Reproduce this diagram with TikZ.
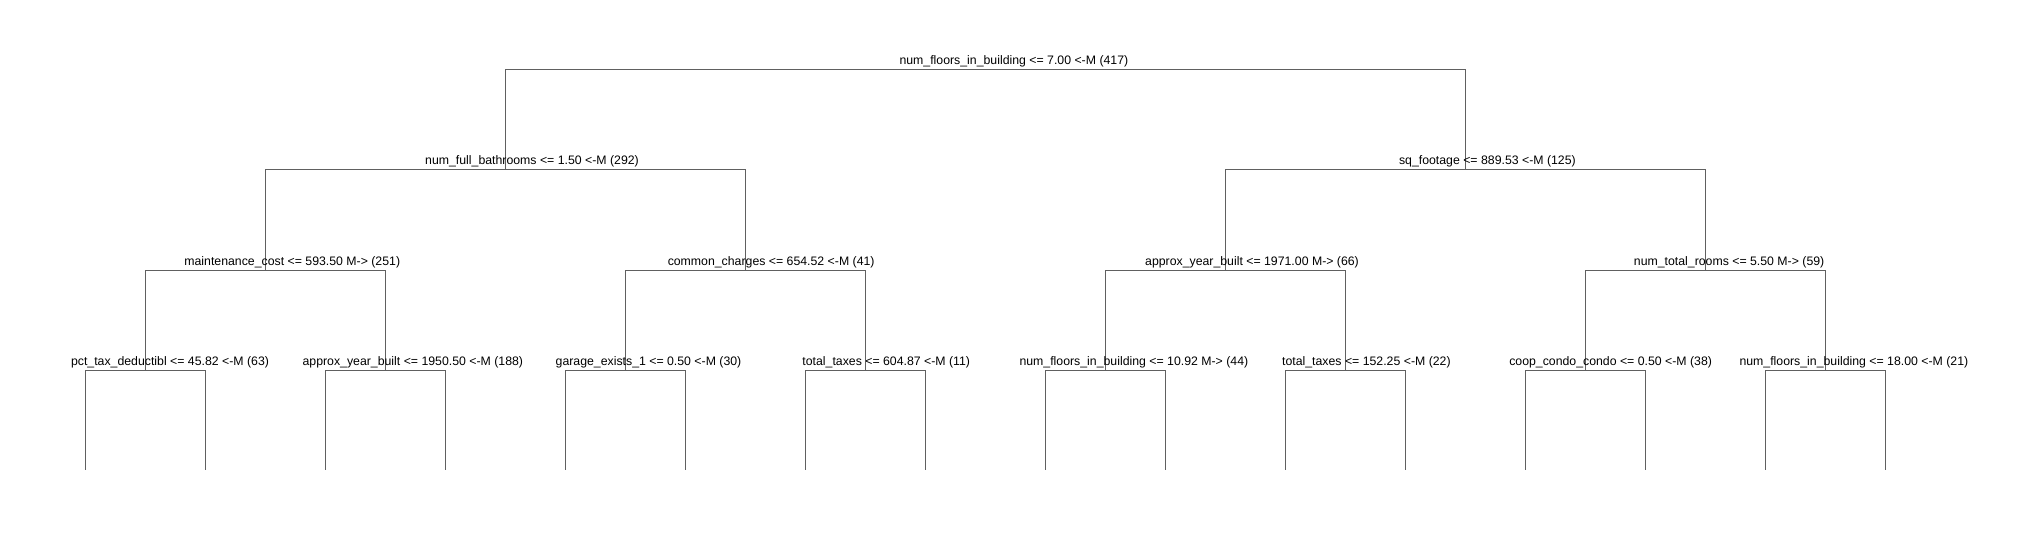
\documentclass[tikz,border=0pt]{standalone}
\usepackage{fontspec}
\setmainfont{Liberation Sans}
\usepackage{tikz}

\definecolor{branchgray}{RGB}{96,96,96}
% text is set as R does it: centred on 3/4 of its width
\newcommand{\splittext}[1]{\makebox[0.75\width][l]{#1}}

\begin{document}
\begin{tikzpicture}[
            x=1pt, y=-1pt,
            branch/.style={draw=branchgray, line width=1pt},
            splitlab/.style={anchor=base, inner sep=0pt, outer sep=0pt,
                yshift=5pt, font=\fontsize{12.3}{14}\selectfont}
        ]
        \useasboundingbox (0, 0) rectangle (2037, 540);

        % split points
        \coordinate (s0)  at (985.3, 70);
        \coordinate (s1a) at (505.3, 170);
        \coordinate (s1b) at (1465.3, 170);
        \coordinate (s2a) at (265.3, 270);
        \coordinate (s2b) at (745.3, 270);
        \coordinate (s2c) at (1225.3, 270);
        \coordinate (s2d) at (1705.3, 270);
        \coordinate (s3a) at (145.3, 370);
        \coordinate (s3b) at (385.3, 370);
        \coordinate (s3c) at (625.3, 370);
        \coordinate (s3d) at (865.3, 370);
        \coordinate (s3e) at (1105.3, 370);
        \coordinate (s3f) at (1345.3, 370);
        \coordinate (s3g) at (1585.3, 370);
        \coordinate (s3h) at (1825.3, 370);
        \foreach \k in {1,...,16}
            \coordinate (leaf\k) at (85.3 + 120*\k - 120, 470);

        % branches
        \draw[branch] (s0) -| (s1a);
        \draw[branch] (s0) -| (s1b);
        \draw[branch] (s1a) -| (s2a);
        \draw[branch] (s1a) -| (s2b);
        \draw[branch] (s1b) -| (s2c);
        \draw[branch] (s1b) -| (s2d);
        \draw[branch] (s2a) -| (s3a);
        \draw[branch] (s2a) -| (s3b);
        \draw[branch] (s2b) -| (s3c);
        \draw[branch] (s2b) -| (s3d);
        \draw[branch] (s2c) -| (s3e);
        \draw[branch] (s2c) -| (s3f);
        \draw[branch] (s2d) -| (s3g);
        \draw[branch] (s2d) -| (s3h);
        \foreach \s/\l/\r in {a/1/2, b/3/4, c/5/6, d/7/8,
                              e/9/10, f/11/12, g/13/14, h/15/16} {
            \draw[branch] (s3\s) -| (leaf\l);
            \draw[branch] (s3\s) -| (leaf\r);
        }

        % split labels
        \node[splitlab] (t0)  at (s0)  {\splittext{num\_floors\_in\_building <= 7.00 <-M (417)}};
        \node[splitlab] (t1a) at (s1a) {\splittext{num\_full\_bathrooms <= 1.50 <-M (292)}};
        \node[splitlab] (t1b) at (s1b) {\splittext{sq\_footage <= 889.53 <-M (125)}};
        \node[splitlab] (t2a) at (s2a) {\splittext{maintenance\_cost <= 593.50 M-> (251)}};
        \node[splitlab] (t2b) at (s2b) {\splittext{common\_charges <= 654.52 <-M (41)}};
        \node[splitlab] (t2c) at (s2c) {\splittext{approx\_year\_built <= 1971.00 M-> (66)}};
        \node[splitlab] (t2d) at (s2d) {\splittext{num\_total\_rooms <= 5.50 M-> (59)}};
        \node[splitlab] (t3a) at (s3a) {\splittext{pct\_tax\_deductibl <= 45.82 <-M (63)}};
        \node[splitlab] (t3b) at (s3b) {\splittext{approx\_year\_built <= 1950.50 <-M (188)}};
        \node[splitlab] (t3c) at (s3c) {\splittext{garage\_exists\_1 <= 0.50 <-M (30)}};
        \node[splitlab] (t3d) at (s3d) {\splittext{total\_taxes <= 604.87 <-M (11)}};
        \node[splitlab] (t3e) at (s3e) {\splittext{num\_floors\_in\_building <= 10.92 M-> (44)}};
        \node[splitlab] (t3f) at (s3f) {\splittext{total\_taxes <= 152.25 <-M (22)}};
        \node[splitlab] (t3g) at (s3g) {\splittext{coop\_condo\_condo <= 0.50 <-M (38)}};
        \node[splitlab] (t3h) at (s3h) {\splittext{num\_floors\_in\_building <= 18.00 <-M (21)}};
    \end{tikzpicture}
\end{document}
